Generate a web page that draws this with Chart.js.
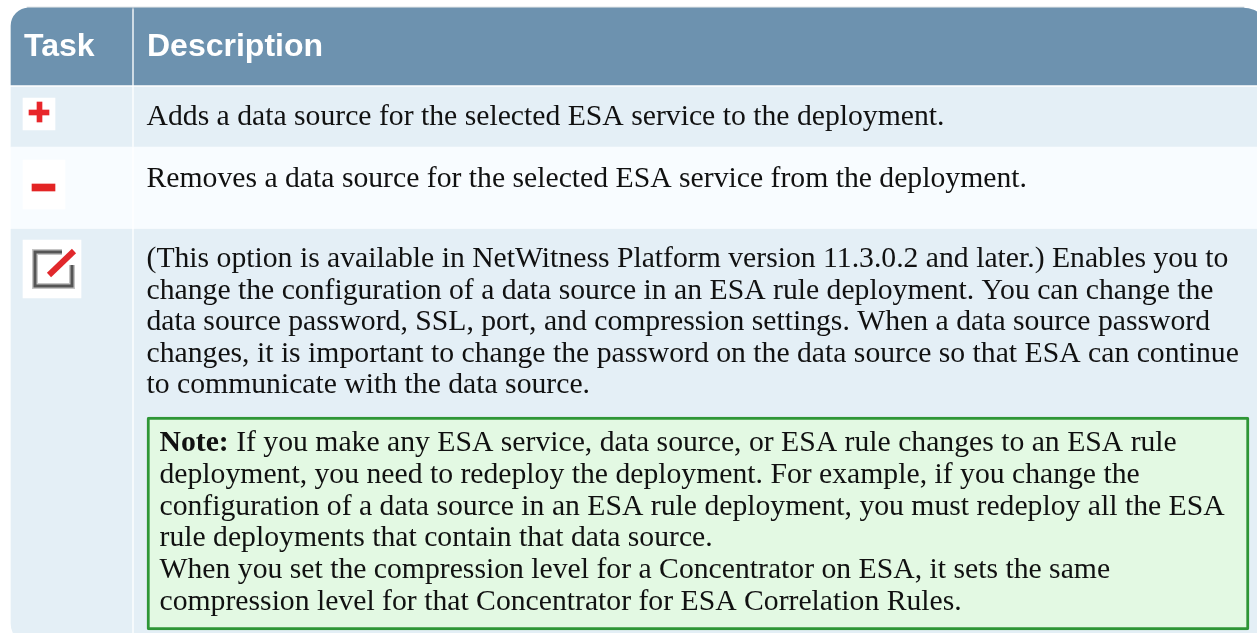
<!DOCTYPE html>
<html>
<head>
<meta charset="utf-8">
<style>
  html, body { margin: 0; padding: 0; background: #fff; overflow: hidden; }
  canvas { display: block; }
</style>
<script src="https://cdn.jsdelivr.net/npm/chart.js@4"></script>
</head>
<body>
<canvas id="myChart" width="1257" height="633"></canvas>
<script>
// the picture is a table, so cells are floating bars on pixel-range scales
const columnEdges = [11, 132, 134, 1270];
const rowEdges = [8, 85, 87, 147, 228, 229, 645];
const noteBox = [147, 1249, 417, 630];

const headerLabels = ['Task', 'Description'];
const row1Lines = ['Adds a data source for the selected ESA service to the deployment.'];
const row2Lines = ['Removes a data source for the selected ESA service from the deployment.'];
const row3Lines = [
  '(This option is available in NetWitness Platform version 11.3.0.2 and later.) Enables you to',
  'change the configuration of a data source in an ESA rule deployment. You can change the',
  'data source password, SSL, port, and compression settings. When a data source password',
  'changes, it is important to change the password on the data source so that ESA can continue',
  'to communicate with the data source.'
];
const noteLabel = 'Note:';
const noteLines = [
  ' If you make any ESA service, data source, or ESA rule changes to an ESA rule',
  'deployment, you need to redeploy the deployment. For example, if you change the',
  'configuration of a data source in an ESA rule deployment, you must redeploy all the ESA',
  'rule deployments that contain that data source.',
  'When you set the compression level for a Concentrator on ESA, it sets the same',
  'compression level for that Concentrator for ESA Correlation Rules.'
];

const plusBox = [23, 55, 98, 130];
const plusBars = [[29, 49, 110, 115], [37, 42, 102, 122]];
const minusBox = [23, 65, 160, 209];
const minusBar = [32, 55, 184, 191];
const editBox = [23, 81, 240, 298];
const editFrameX = [62, 35, 35, 72, 72];
const editFrameY = [252, 252, 286, 286, 265];
const editPencilX = [49, 74];
const editPencilY = [275, 251];

function bar(cells, thickness, color, extra) {
  return Object.assign({
    type: 'bar',
    indexAxis: 'y',
    grouped: false,
    barThickness: thickness,
    backgroundColor: color,
    borderWidth: 0,
    borderSkipped: false,
    data: cells.map(c => ({ x: [c[0], c[1]], y: (c[2] + c[3]) / 2 }))
  }, extra);
}

function row(top, bottom, color, leftRadius, rightRadius) {
  return [
    bar([[columnEdges[0], columnEdges[1], top, bottom]], bottom - top, color, { borderRadius: leftRadius }),
    bar([[columnEdges[2], columnEdges[3], top, bottom]], bottom - top, color, { borderRadius: rightRadius })
  ];
}

function line(xs, ys, color, width) {
  return {
    type: 'line',
    indexAxis: 'x',
    borderColor: color,
    borderWidth: width,
    pointRadius: 0,
    tension: 0,
    fill: false,
    data: xs.map((x, i) => ({ x: x, y: ys[i] }))
  };
}

// listed bottom layer first, reversed below since Chart.js paints the first dataset last
const layers = [
  bar([[columnEdges[0] + 16, columnEdges[3] - 26, 7, 9]], 2, '#c3ced6'),
  ...row(rowEdges[0], rowEdges[1], '#6d92af', { topLeft: 18 }, { topRight: 27 }),
  ...row(rowEdges[2], rowEdges[3], '#e4eff6', {}, {}),
  ...row(rowEdges[3], rowEdges[4], '#f8fcff', {}, {}),
  ...row(rowEdges[5], rowEdges[6], '#e4eff6', { bottomLeft: 22 }, {}),
  bar([noteBox], noteBox[3] - noteBox[2], '#e3f9e3', { borderColor: '#2e9636', borderWidth: 3, borderRadius: 2 }),
  bar([plusBox], plusBox[3] - plusBox[2], '#ffffff'),
  bar([plusBars[0]], plusBars[0][3] - plusBars[0][2], '#e8262a'),
  bar([plusBars[1]], plusBars[1][3] - plusBars[1][2], '#e8262a'),
  bar([minusBox], minusBox[3] - minusBox[2], '#ffffff'),
  bar([minusBar], minusBar[3] - minusBar[2], '#e32424'),
  bar([editBox], editBox[3] - editBox[2], '#ffffff'),
  line(editFrameX, editFrameY, 'rgba(90,90,90,0.35)', 6),
  line(editFrameX, editFrameY, '#555555', 3),
  line(editPencilX, editPencilY, '#e1282c', 6)
];

const tableText = {
  id: 'tableText',
  afterDatasetsDraw(chart) {
    const c = chart.ctx;
    const sx = chart.scales.x;
    const sy = chart.scales.y;
    const put = (txt, x, y) => c.fillText(txt, sx.getPixelForValue(x), sy.getPixelForValue(y));
    const block = (lines, x, y, step) => lines.forEach((t, i) => put(t, x, y + i * step));

    c.save();
    c.textBaseline = 'alphabetic';
    c.textAlign = 'left';
    c.fillStyle = '#ffffff';
    c.font = 'bold 32px "Liberation Sans"';
    put(headerLabels[0], 24, 56);
    put(headerLabels[1], 147, 56);

    c.fillStyle = '#111111';
    c.font = '29.7px "Liberation Serif"';
    block(row1Lines, 146.5, 125, 31.5);
    block(row2Lines, 146.5, 186.5, 31.5);
    block(row3Lines, 146.5, 267, 31.5);

    c.font = 'bold 29.7px "Liberation Serif"';
    put(noteLabel, 159.5, 451);
    const labelWidth = c.measureText(noteLabel).width;
    c.font = '29.7px "Liberation Serif"';
    put(noteLines[0], 159.5 + labelWidth, 451);
    block(noteLines.slice(1), 159.5, 482.8, 31.7);
    c.restore();
  }
};

new Chart(document.getElementById('myChart'), {
  data: { datasets: layers.reverse() },
  plugins: [tableText],
  options: {
    responsive: false,
    animation: false,
    layout: { padding: 0 },
    plugins: { legend: { display: false }, tooltip: { enabled: false } },
    scales: {
      x: { type: 'linear', display: false, min: 0, max: 1257, offset: false },
      y: { type: 'linear', display: false, min: 0, max: 633, reverse: true, offset: false }
    }
  }
});
</script>
</body>
</html>
